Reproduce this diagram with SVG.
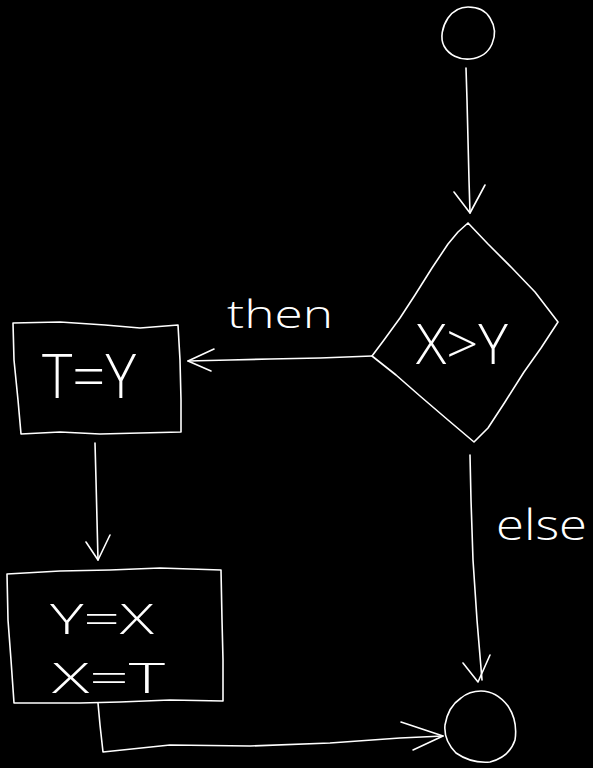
<svg xmlns="http://www.w3.org/2000/svg" width="593" height="768" viewBox="0 0 593 768">
<style>
.s{fill:none;stroke:#fff;stroke-width:1.6;stroke-linejoin:round;stroke-linecap:round}
.t{fill:#fff;font-family:"Open Sans","Liberation Sans",Arial,sans-serif;font-weight:300}
</style>
<rect width="593" height="768" fill="#000"/>
<g id="start">
<path class="s" d="M468,7 C478,7 486,11 490,18 C495,26 496,35 492,44 C488,53 481,58 470,59 C459,60 449,55 444,46 C440,38 442,27 448,18 C453,11 460,7 468,7 Z"/>
</g>
<g id="decision">
<polyline class="s" points="468,223 488,244 512,268 535,292 558,322 541,348 524,372 505,402 488,428 474,442 448,420 420,396 396,375 372,356 384,340 400,318 415,295 432,268 448,244 458,232 468,223"/>
<text class="t" x="416" y="364" font-size="56" textLength="92" lengthAdjust="spacingAndGlyphs">X&gt;Y</text>
</g>
<g id="assignT">
<polyline class="s" points="13,323 60,322 105,325 140,328 178,325 180,360 181,400 181,432 140,433 100,434 60,432 21,434 18,400 14,360 13,323"/>
<text class="t" x="42" y="398" font-size="60" textLength="94" lengthAdjust="spacingAndGlyphs">T=Y</text>
</g>
<g id="swap">
<polyline class="s" points="7,574 60,571 110,570 160,568 221,570 222,620 223,660 223,701 170,700 120,702 80,703 14,703 11,660 8,620 7,574"/>
<text class="t" x="50" y="634" font-size="43" textLength="104" lengthAdjust="spacingAndGlyphs">Y=X</text>
<text class="t" x="52" y="693" font-size="43" textLength="113" lengthAdjust="spacingAndGlyphs">X=T</text>
</g>
<g id="end">
<path class="s" d="M481,691 C492,691 501,697 508,706 C514,715 517,727 515,740 C511,752 502,759 490,762 C478,763 466,760 456,753 C448,745 444,735 445,725 C447,713 452,704 461,698 C467,693 474,691 481,691 Z"/>
</g>
<g id="connectors">
<polyline class="s" points="466,68 467,100 468,140 469,180 470,213"/>
<polyline class="s" points="454,192 470,213 485,185"/>
<polyline class="s" points="372,356 320,358 270,359 230,360 188,361"/>
<polyline class="s" points="214,349 188,361 211,371"/>
<text class="t" x="227" y="328" font-size="38" textLength="106" lengthAdjust="spacingAndGlyphs">then</text>
<polyline class="s" points="95,443 96,480 97,520 98,560"/>
<polyline class="s" points="86,542 98,560 110,535"/>
<polyline class="s" points="470,455 471,500 473,560 477,620 482,680"/>
<polyline class="s" points="463,663 478,682 490,655"/>
<text class="t" x="496" y="540" font-size="42" textLength="91" lengthAdjust="spacingAndGlyphs">else</text>
<polyline class="s" points="98,703 100,725 103,752 170,745 250,746 330,743 400,738 443,736"/>
<polyline class="s" points="401,722 443,736 413,750"/>
</g>
</svg>
